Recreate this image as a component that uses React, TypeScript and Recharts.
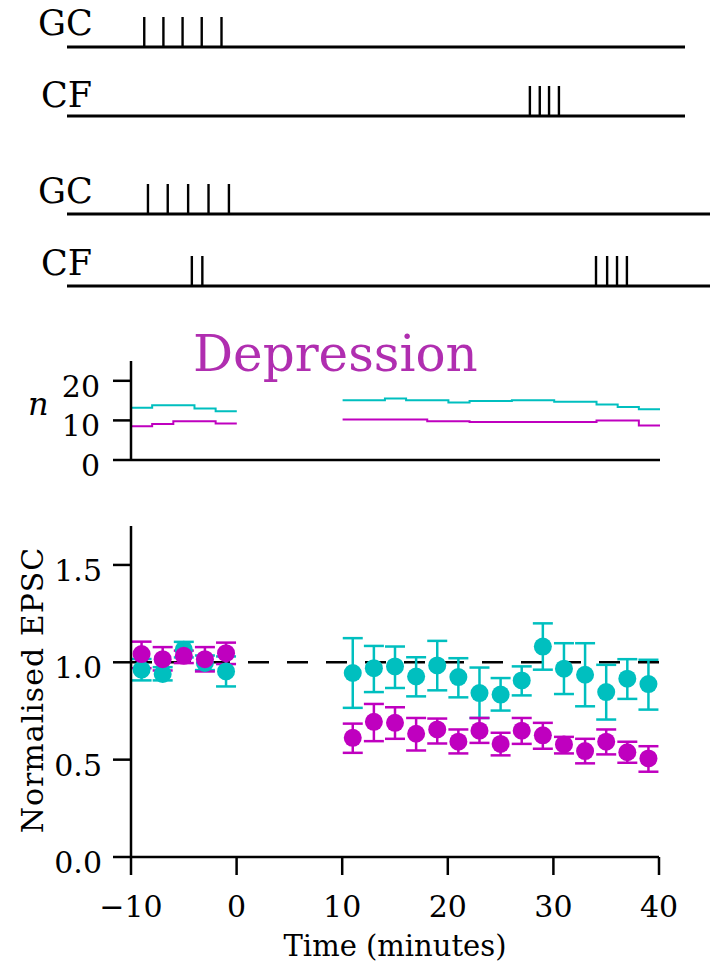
import React from 'react'
import {
  ScatterChart, Scatter, LineChart, Line, XAxis, YAxis, ErrorBar, ReferenceLine,
} from 'recharts'

const SERIF = '"DejaVu Serif"'
const CYAN = '#00bfbf'
const MAGENTA = '#bf00bf'
const TITLE = '#b02eb0'

// ── spike-train schematic (time in arbitrary units, 0–100 = upper trial length)
const gc1Spikes = [12.5, 15.6, 18.7, 21.8, 25.0]
const cf1Spikes = [74.9, 76.5, 78.0, 79.6]
const gc2Spikes = [13.1, 16.3, 19.6, 22.9, 26.2]
const cf2Spikes = [20.2, 21.9, 85.6, 87.4, 89.0, 90.6]

// ── n panel (step values, bin start times; null = no recording)
const nTimes = [-10, -8, -6, -4, -2, 0, 5, 10, 12, 14, 16, 18, 20, 22, 24, 26, 28, 30, 32, 34, 36, 38, 40]
const nCyan = [13.2, 13.8, 13.8, 13.0, 12.3, 12.3, null, 15.1, 15.1, 15.5, 15.1, 15.1, 14.5, 14.9, 14.9, 15.1, 15.1, 14.7, 14.7, 14.0, 13.4, 12.8, 12.8]
const nMag = [8.5, 9.1, 9.8, 9.8, 9.2, 9.2, null, 10.2, 10.2, 10.2, 10.2, 9.8, 9.8, 9.6, 9.6, 9.6, 9.6, 9.6, 9.6, 10.0, 10.0, 8.7, 8.7]
const nTicks = [0, 10, 20]

// ── normalised EPSC
const times = [-9, -7, -5, -3, -1, 11, 13, 15, 17, 19, 21, 23, 25, 27, 29, 31, 33, 35, 37, 39]
const cyanMean = [0.962, 0.94, 1.065, 0.997, 0.953, 0.945, 0.970, 0.979, 0.927, 0.984, 0.924, 0.842, 0.834, 0.907, 1.081, 0.967, 0.936, 0.847, 0.916, 0.888]
const cyanHigh = [1.017, 0.975, 1.105, 1.035, 1.03, 1.124, 1.084, 1.081, 1.026, 1.110, 1.021, 0.973, 0.919, 0.979, 1.200, 1.098, 1.098, 0.987, 1.016, 1.013]
const cyanLow = [0.907, 0.907, 1.025, 0.96, 0.876, 0.766, 0.847, 0.868, 0.825, 0.856, 0.820, 0.714, 0.752, 0.830, 0.962, 0.837, 0.774, 0.706, 0.812, 0.757]
const magMean = [1.042, 1.016, 1.033, 1.016, 1.047, 0.612, 0.694, 0.689, 0.633, 0.655, 0.592, 0.649, 0.581, 0.649, 0.625, 0.578, 0.544, 0.592, 0.538, 0.506]
const magHigh = [1.106, 1.078, 1.06, 1.078, 1.101, 0.685, 0.786, 0.769, 0.714, 0.711, 0.655, 0.714, 0.638, 0.714, 0.689, 0.617, 0.607, 0.655, 0.592, 0.569]
const magLow = [0.970, 0.958, 0.996, 0.953, 0.991, 0.535, 0.595, 0.607, 0.547, 0.583, 0.532, 0.586, 0.522, 0.581, 0.556, 0.532, 0.481, 0.527, 0.484, 0.438]
const xTicks = [-10, 0, 10, 20, 30, 40]
const yTicks = [0, 0.5, 1.0, 1.5]

const nData = nTimes.map((t, i) => ({ t, cyan: nCyan[i], mag: nMag[i] }))
const cyanData = times.map((t, i) => ({ t, v: cyanMean[i], err: [cyanMean[i] - cyanLow[i], cyanHigh[i] - cyanMean[i]] }))
const magData = times.map((t, i) => ({ t, v: magMean[i], err: [magMean[i] - magLow[i], magHigh[i] - magMean[i]] }))

const axisStroke = { stroke: '#000', strokeWidth: 2.5 }

function Spike(props: any) {
  const { cx, cy } = props
  return <line x1={cx} x2={cx} y1={cy} y2={cy + 30} stroke="#000" strokeWidth={2.4} />
}

function SpikeTrain({ spikes, top, width }: { spikes: number[]; top: number; width: number }) {
  const span = ((width - 67) / 618) * 100
  return (
    <div style={{ position: 'absolute', left: 0, top }}>
      <ScatterChart width={width} height={40} margin={{ top: 5, right: 0, bottom: 5, left: 67 }}>
        <XAxis type="number" dataKey="t" domain={[0, span]} hide />
        <YAxis type="number" dataKey="y" domain={[0, 1]} hide />
        <ReferenceLine y={0} stroke="#000" strokeWidth={3} />
        <Scatter data={spikes.map(t => ({ t, y: 1 }))} shape={Spike} isAnimationActive={false} />
      </ScatterChart>
    </div>
  )
}

function YTick(props: any) {
  const { x, y, payload, digits } = props
  return (
    <text x={x} y={y + 16} textAnchor="end" fill="#000" style={{ fontFamily: SERIF, fontSize: 30 }}>
      {digits ? payload.value.toFixed(1) : payload.value}
    </text>
  )
}

function XTick(props: any) {
  const { x, y, payload } = props
  const v = payload.value
  return (
    <text x={x} y={y + 42} textAnchor="middle" fill="#000" style={{ fontFamily: SERIF, fontSize: 30 }}>
      {v < 0 ? `\u2212${Math.abs(v)}` : v}
    </text>
  )
}

function Dot(color: string) {
  return (props: any) => <circle cx={props.cx} cy={props.cy} r={9} fill={color} />
}

function Txt({ x, y, size, children, anchor, italic, color, transform, spacing }: any) {
  return (
    <text x={x} y={y} transform={transform} textAnchor={anchor || 'start'} fill={color || '#000'}
      style={{ fontFamily: SERIF, fontSize: size, fontStyle: italic ? 'italic' : 'normal', letterSpacing: spacing || 0 }}>
      {children}
    </text>
  )
}

export default function App() {
  return (
    <div style={{ position: 'absolute', left: 0, top: 0, width: 710, height: 973, background: '#fff', overflow: 'hidden' }}>
      <SpikeTrain spikes={gc1Spikes} top={12} width={685} />
      <SpikeTrain spikes={cf1Spikes} top={81} width={685} />
      <SpikeTrain spikes={gc2Spikes} top={179} width={710} />
      <SpikeTrain spikes={cf2Spikes} top={251} width={710} />

      {/* n panel */}
      <div style={{ position: 'absolute', left: 0, top: 340 }}>
        <LineChart width={710} height={155} data={nData} margin={{ top: 21, right: 50, bottom: 0, left: 61 }}>
          <XAxis type="number" dataKey="t" domain={[-10, 40]} height={35} tick={false} tickLine={false} axisLine={axisStroke} />
          <YAxis type="number" domain={[0, 25]} ticks={nTicks} width={70} tickSize={18} tickMargin={13}
            axisLine={axisStroke} tickLine={axisStroke} tick={<YTick />} />
          <Line type="stepAfter" dataKey="cyan" stroke={CYAN} strokeWidth={2} dot={false} isAnimationActive={false} />
          <Line type="stepAfter" dataKey="mag" stroke={MAGENTA} strokeWidth={2} dot={false} isAnimationActive={false} />
        </LineChart>
      </div>

      {/* EPSC panel */}
      <div style={{ position: 'absolute', left: 0, top: 500 }}>
        <ScatterChart width={710} height={473} margin={{ top: 26, right: 51, bottom: 0, left: 61 }}>
          <XAxis type="number" dataKey="t" domain={[-10, 40]} ticks={xTicks} height={116} tickSize={18} tickMargin={0}
            axisLine={axisStroke} tickLine={axisStroke} tick={<XTick />} />
          <YAxis type="number" dataKey="v" domain={[0, 1.7]} ticks={yTicks} width={70} tickSize={18} tickMargin={11}
            axisLine={axisStroke} tickLine={axisStroke} tick={<YTick digits />} />
          <ReferenceLine y={1} stroke="#000" strokeWidth={2.5} strokeDasharray="21 18" />
          <Scatter data={cyanData} shape={Dot(CYAN)} isAnimationActive={false}>
            <ErrorBar dataKey="err" direction="y" width={10} strokeWidth={2.5} stroke={CYAN} />
          </Scatter>
          <Scatter data={magData} shape={Dot(MAGENTA)} isAnimationActive={false}>
            <ErrorBar dataKey="err" direction="y" width={10} strokeWidth={2.5} stroke={MAGENTA} />
          </Scatter>
        </ScatterChart>
      </div>

      <svg width={710} height={973} style={{ position: 'absolute', left: 0, top: 0, pointerEvents: 'none' }}>
        <Txt x={38} y={35} size={35}>GC</Txt>
        <Txt x={41} y={107} size={35}>CF</Txt>
        <Txt x={38} y={203} size={35}>GC</Txt>
        <Txt x={41} y={275} size={35}>CF</Txt>
        <Txt x={28} y={415} size={32} italic>n</Txt>
        <Txt transform="translate(43, 690) rotate(-90)" anchor="middle" size={30} spacing={1}>Normalised EPSC</Txt>
        <Txt x={395} y={956} anchor="middle" size={29}>Time (minutes)</Txt>
        <Txt x={193} y={371} size={50} color={TITLE}>Depression</Txt>
      </svg>
    </div>
  )
}
